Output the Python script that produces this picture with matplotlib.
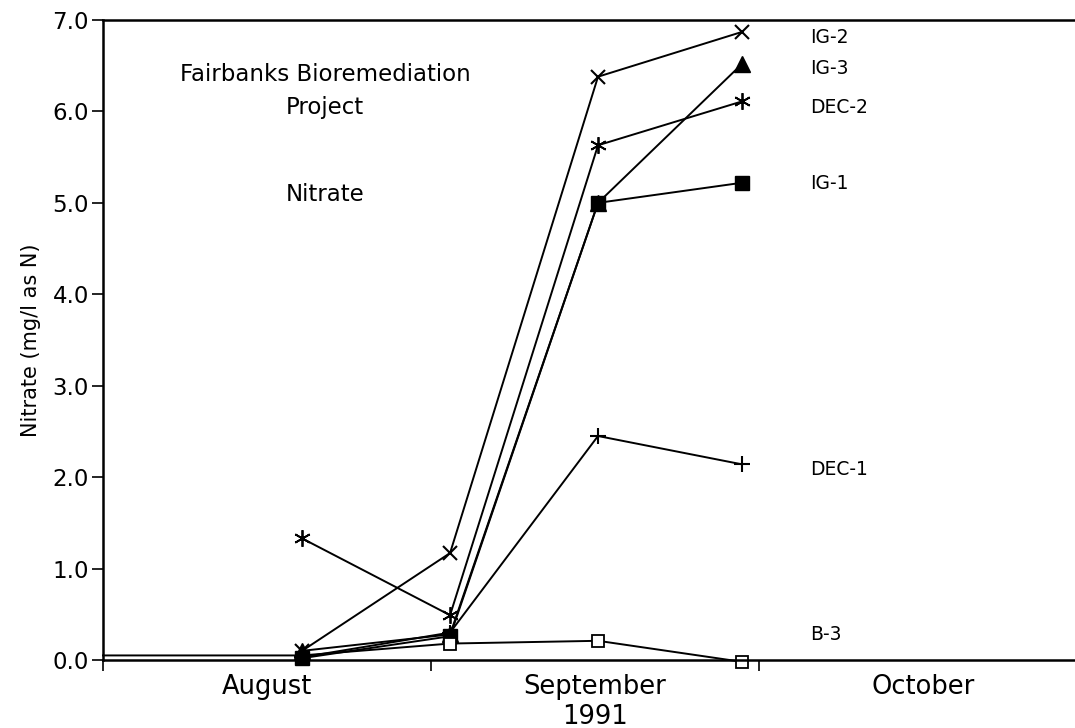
import numpy as np
import matplotlib
matplotlib.use('Agg')
import matplotlib.pyplot as plt

plt.rcParams['font.family'] = ['DejaVu Sans']

# sampling times in months after 1 August 1991
t = [0.607, 1.058, 1.509, 1.948]
b3_t = [0.0, 0.607, 1.058, 1.509, 1.948]

ig2 = [0.10, 1.17, 6.38, 6.87]
ig3 = [0.10, 0.28, 5.00, 6.52]
dec2 = [1.33, 0.49, 5.63, 6.11]
ig1 = [0.02, 0.26, 5.00, 5.22]
dec1 = [0.03, 0.30, 2.45, 2.14]
b3 = [0.05, 0.05, 0.18, 0.21, -0.02]

month_edges = [0, 1, 2]
month_names = ['August', 'September\n1991', 'October']

fig = plt.figure(figsize=(10.75, 7.28), dpi=100)
ax = fig.add_axes([0.0958, 0.0934, 0.9042, 0.8791])

kw = dict(color='black', lw=1.4, clip_on=False)
ax.plot(t, ig2, marker='x', ms=10, mew=1.5, **kw)
ax.plot(t, ig3, marker='^', ms=12, mfc='black', **kw)
ax.plot(t, dec2, marker=(6, 2, 0), ms=12, mew=1.3, **kw)
ax.plot(t, ig1, marker='s', ms=10, mfc='black', **kw)
ax.plot(t, dec1, marker='+', ms=11, mew=1.5, **kw)
ax.plot(b3_t, b3, marker='s', ms=9, mfc='white', mew=1.3, markevery=[2, 3, 4], **kw)

# series labels at the right
lab_x = 2.155
for name, y in [('IG-2', 6.81), ('IG-3', 6.47), ('DEC-2', 6.04), ('IG-1', 5.21),
                ('DEC-1', 2.08), ('B-3', 0.28)]:
    ax.text(lab_x, y, name, fontsize=13.5, va='center', ha='left')

ax.text(0.677, 6.40, 'Fairbanks Bioremediation', fontsize=16.5, ha='center', va='center')
ax.text(0.677, 6.04, 'Project', fontsize=16.5, ha='center', va='center')
ax.text(0.677, 5.09, 'Nitrate', fontsize=16.5, ha='center', va='center')

ax.set_yticks(np.arange(0, 7.5, 1.0))
ax.set_yticklabels(['%.1f' % v for v in np.arange(0, 7.5, 1.0)], fontsize=16.5)
ax.set_ylabel('Nitrate (mg/l as N)', fontsize=15, labelpad=8)

ax.set_xticks(month_edges)
ax.set_xticklabels([])
centers = [e + 0.5 for e in month_edges]
ax.set_xticks(centers, minor=True)
ax.set_xticklabels(month_names, minor=True, fontsize=18.5, va='top')
ax.tick_params(axis='x', which='minor', length=0, pad=10)
ax.tick_params(axis='both', which='major', direction='out', length=8, width=1.2)
ax.tick_params(axis='y', pad=2)

ax.set_xlim(0, 2.963)
ax.set_ylim(0, 7)

ax.spines['right'].set_visible(False)
for s in ['left', 'bottom', 'top']:
    ax.spines[s].set_linewidth(1.8)

fig.savefig('out.png', dpi=100)
